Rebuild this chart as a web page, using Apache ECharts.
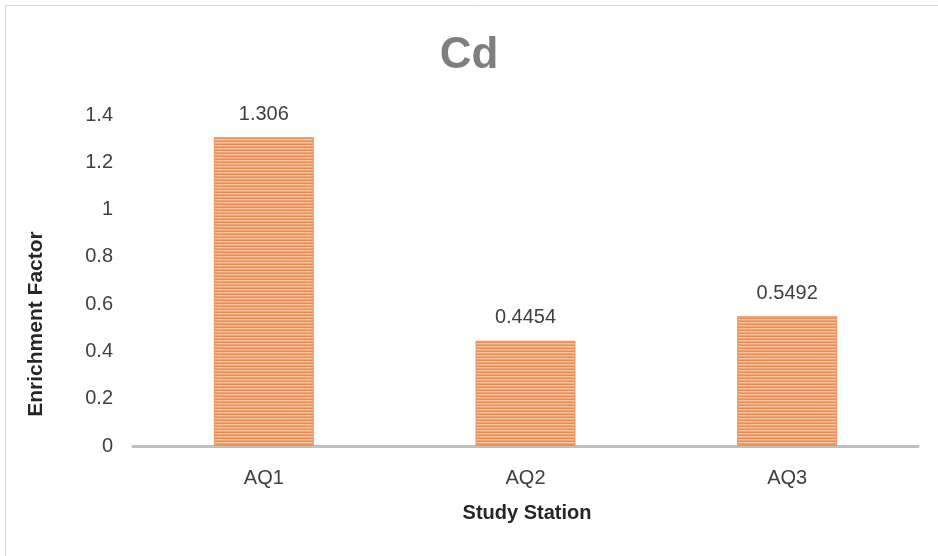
<!DOCTYPE html>
<html><head><meta charset="utf-8">
<script src="https://cdn.jsdelivr.net/npm/echarts@6/dist/echarts.min.js"></script>
<style>html,body{margin:0;padding:0;background:#fff}#c{width:938px;height:556px}</style>
</head><body><div id="c"></div>
<script>
const categories = ['AQ1', 'AQ2', 'AQ3'];
const values = [1.306, 0.4454, 0.5492];
const yTicks = [0, 0.2, 0.4, 0.6, 0.8, 1, 1.2, 1.4];

const pc = document.createElement('canvas');
pc.width = 4; pc.height = 3;
const g = pc.getContext('2d');
g.fillStyle = '#F6C4A0'; g.fillRect(0, 0, 4, 3);
g.fillStyle = '#EA8D52'; g.fillRect(0, 0, 4, 1);
g.fillStyle = '#F0A575'; g.fillRect(0, 2, 4, 1);

const chart = echarts.init(document.getElementById('c'), null, {renderer: 'canvas'});
const FONT = '"Liberation Sans", Arial, sans-serif';
chart.setOption({
  animation: false,
  backgroundColor: '#fff',
  title: {
    text: 'Cd', left: 'center', top: 29,
    textStyle: {fontFamily: FONT, fontSize: 44, fontWeight: 'bold', color: '#7F7F7F'}
  },
  grid: {left: 133, right: 20, top: 115, bottom: 110},
  xAxis: {
    type: 'category', data: categories,
    axisLine: {lineStyle: {color: '#BFBFBF', width: 3}},
    axisTick: {show: false},
    axisLabel: {fontFamily: FONT, fontSize: 20, color: '#404040', margin: 22}
  },
  yAxis: {
    type: 'value', min: 0, max: 1.4, interval: 0.2,
    axisLine: {show: false}, axisTick: {show: false}, splitLine: {show: false},
    axisLabel: {fontFamily: FONT, fontSize: 20, color: '#404040', margin: 20,
      formatter: v => { const t = yTicks.find(x => Math.abs(x - v) < 1e-9); return t === undefined ? '' : String(t); }}
  },
  series: [{
    type: 'bar', data: values, barWidth: 100,
    itemStyle: {color: {image: pc, repeat: 'repeat'}, borderColor: '#EE9460', borderWidth: 1},
    label: {show: true, position: 'top', distance: 13, fontFamily: FONT, fontSize: 20, color: '#404040',
      formatter: p => String(values[p.dataIndex])}
  }],
  graphic: [
    {type: 'rect', shape: {x: 5.5, y: 5.5, width: 940, height: 560}, style: {fill: null, stroke: '#D9D9D9', lineWidth: 1}, z: -1},
    {type: 'text', x: 36, y: 324, rotation: Math.PI / 2,
      style: {text: 'Enrichment Factor', fontFamily: FONT, fontSize: 21, fontWeight: 'bold', fill: '#262626', align: 'center', verticalAlign: 'middle'}},
    {type: 'text', x: 527, y: 513,
      style: {text: 'Study Station', fontFamily: FONT, fontSize: 20, fontWeight: 'bold', fill: '#262626', align: 'center', verticalAlign: 'middle'}}
  ]
});
</script></body></html>
